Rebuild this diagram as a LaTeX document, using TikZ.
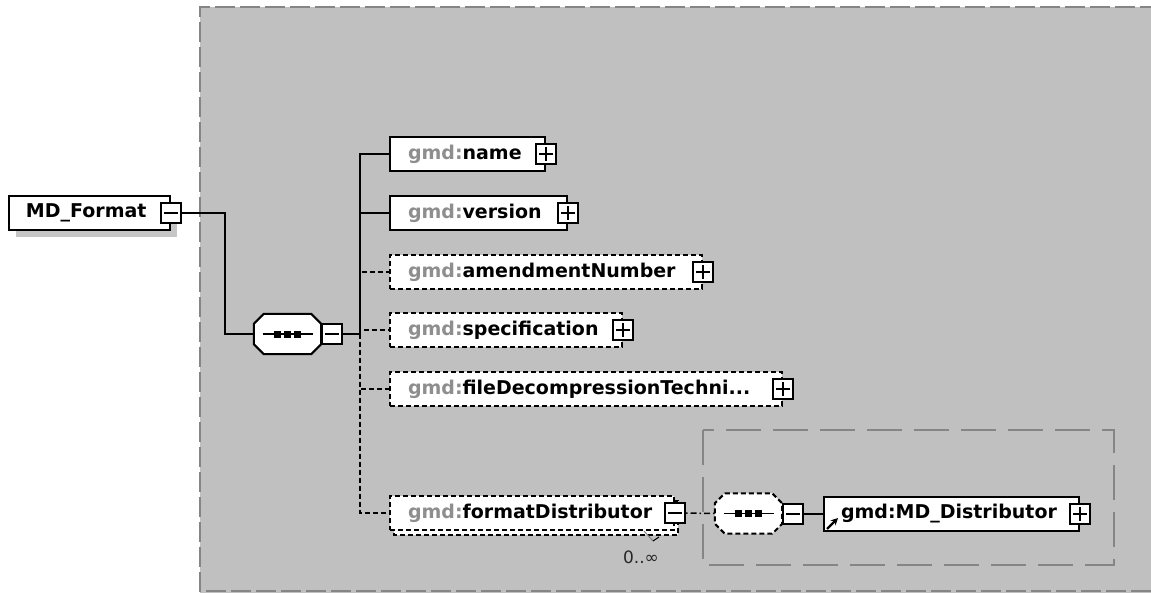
\documentclass[tikz,border=0pt]{standalone}
\usepackage{fontspec}
\setmainfont{DejaVu Sans}
\usetikzlibrary{arrows.meta}
\definecolor{bggray}{HTML}{C0C0C0}
\definecolor{framegray}{HTML}{858585}
\definecolor{gmdgray}{HTML}{8E8E8E}
\definecolor{shadowgray}{HTML}{C6C6C6}
\newcommand\elemfont{\bfseries\fontsize{19}{22}\selectfont}
\newcommand\gmdpre{\textcolor{gmdgray}{gmd:}}
\tikzset{
  conn/.style={line width=2pt},
  optconn/.style={line width=2pt, dash pattern=on 5pt off 3pt},
  dotconn/.style={line width=1.5pt, dash pattern=on 1.5pt off 3pt on 6pt off 3pt},
  elem/.style={draw, fill=white, line width=2pt, minimum height=34pt,
    inner xsep=0pt, inner ysep=0pt, text width=#1, align=left,
    anchor=north west, font=\elemfont},
  optelem/.style={elem=#1, dash pattern=on 5pt off 3pt},
  pm/.style={draw, fill=white, line width=2pt, minimum size=20pt, inner sep=0pt},
  plusbox/.style={pm, path picture={
    \draw[line width=1.6pt] ([xshift=-7pt]path picture bounding box.center) -- ([xshift=7pt]path picture bounding box.center)
      ([yshift=-7pt]path picture bounding box.center) -- ([yshift=7pt]path picture bounding box.center);}},
  minusbox/.style={pm, path picture={
    \draw[line width=1.6pt] ([xshift=-7pt]path picture bounding box.center) -- ([xshift=7pt]path picture bounding box.center);}},
  seqnode/.style={minimum width=67pt, minimum height=40pt, inner sep=0pt},
  seqborder/.style={draw=black, fill=white, line width=2pt},
  optseqborder/.style={seqborder, dash pattern=on 5pt off 3pt},
  outerframe/.style={draw=framegray, line width=2pt, dash pattern=on 20pt off 5pt},
  innerframe/.style={draw=framegray, line width=2pt, dash pattern=on 35pt off 12pt},
  occur/.style={font=\fontsize{17}{19}\selectfont, text=black!85, inner sep=0pt}
}
\begin{document}
\begin{tikzpicture}[x=1pt,y=-1pt]
\useasboundingbox (0,0) rectangle (1151,592);
% background frame
\fill[bggray] (200,7) rectangle (1160,600);
\draw[outerframe] (1160,7) -- (200,7) -- (200,591) -- (1160,591);
\draw[innerframe] (703,430) rectangle (1114,565);

% root element
\fill[shadowgray] (16,203) rectangle (177,237);
\node[elem=161pt] (root) at (8,195) {\hspace*{17pt}MD\_Format};
\node[minusbox] (rootpm) at (root.east) {};

% sequence 1
\node[seqnode] (s1) at (287.5,334) {};
\filldraw[seqborder] ([xshift=10pt]s1.north west) -- ([xshift=-10pt]s1.north east) -- ([yshift=-10pt]s1.north east)
  -- ([yshift=10pt]s1.south east) -- ([xshift=-10pt]s1.south east) -- ([xshift=10pt]s1.south west)
  -- ([yshift=10pt]s1.south west) -- ([yshift=-10pt]s1.north west) -- cycle;
\draw[line width=1.8pt] ([xshift=-25pt]s1.center) -- ([xshift=25pt]s1.center);
\fill ([xshift=-10pt]s1.center) +(-3.5,-3.5) rectangle +(3.5,3.5);
\fill (s1.center) +(-3.5,-3.5) rectangle +(3.5,3.5);
\fill ([xshift=10pt]s1.center) +(-3.5,-3.5) rectangle +(3.5,3.5);
\node[minusbox] (s1pm) at (331.5,334) {};

% children
\node[elem=155pt] (name) at (389,136) {\hspace*{18pt}\gmdpre name};
\node[plusbox] (namepm) at (name.east) {};
\node[elem=177pt] (version) at (389,195) {\hspace*{18pt}\gmdpre version};
\node[plusbox] (versionpm) at (version.east) {};
\node[optelem=312pt] (amend) at (389,254) {\hspace*{18pt}\gmdpre amendmentNumber};
\node[plusbox] (amendpm) at (amend.east) {};
\node[optelem=232pt] (spec) at (389,312) {\hspace*{18pt}\gmdpre specification};
\node[plusbox] (specpm) at (spec.east) {};
\node[optelem=392pt] (fdt) at (389,371) {\hspace*{18pt}\gmdpre fileDecompressionTechni...};
\node[plusbox] (fdtpm) at (fdt.east) {};

% formatDistributor (multiple occurrence)
\draw[fill=white, line width=2pt, dash pattern=on 5pt off 3pt] (394,501) rectangle (678,535);
\node[optelem=284pt] (fdist) at (389,495) {\hspace*{18pt}\gmdpre formatDistributor};
\node[minusbox] (fdistpm) at (fdist.east) {};
\draw[gray, line width=1pt] (644,531) -- (653,541);
\draw[line width=1pt] (653,541) -- (659,537);
\node[occur] (occ) at (641,557) {0..∞};

% sequence 2
\node[seqnode] (s2) at (748.5,513.5) {};
\filldraw[optseqborder] ([xshift=10pt]s2.north west) -- ([xshift=-10pt]s2.north east) -- ([yshift=-10pt]s2.north east)
  -- ([yshift=10pt]s2.south east) -- ([xshift=-10pt]s2.south east) -- ([xshift=10pt]s2.south west)
  -- ([yshift=10pt]s2.south west) -- ([yshift=-10pt]s2.north west) -- cycle;
\draw[line width=1.8pt] ([xshift=-25pt]s2.center) -- ([xshift=25pt]s2.center);
\fill ([xshift=-10pt]s2.center) +(-3.5,-3.5) rectangle +(3.5,3.5);
\fill (s2.center) +(-3.5,-3.5) rectangle +(3.5,3.5);
\fill ([xshift=10pt]s2.center) +(-3.5,-3.5) rectangle +(3.5,3.5);
\node[minusbox] (s2pm) at (792.5,514) {};

% referenced element
\node[elem=255pt] (mdd) at (823,496) {\hspace*{17pt}gmd:MD\_Distributor};
\node[plusbox] (mddpm) at (mdd.east) {};
\draw[line width=2.2pt, -{Stealth[length=7pt,width=7pt]}] (827,529) -- (838,518);

% connectors
\coordinate (j1) at (225,334);
\coordinate (sp) at (360,334);
\draw[conn] (rootpm.east) -| (j1) -- (s1.west);
\draw[conn] (s1pm.east) -- (sp);
\draw[optconn] (sp) |- (amend.west);
\draw[optconn] (sp) |- (spec.west);
\draw[optconn] (sp) |- (fdt.west);
\draw[optconn] (sp) |- (fdist.west);
\draw[conn] (sp) |- (name.west);
\draw[conn] (sp) |- (version.west);
\draw[dotconn] (fdistpm.east) -- (s2.west);
\draw[conn] (s2pm.east) -- (mdd.west);
\end{tikzpicture}
\end{document}
